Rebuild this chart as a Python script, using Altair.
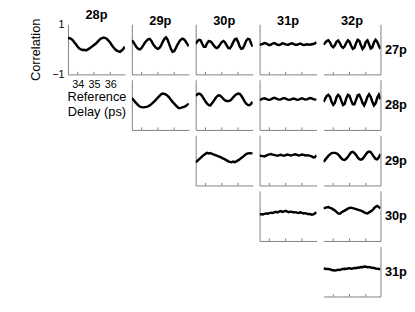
import altair as alt
import pandas as pd

ROWS = ["27p", "28p", "29p", "30p", "31p"]
COLS = ["28p", "29p", "30p", "31p", "32p"]
TICKS = [34, 35, 36]
DELAY = [33.4, 33.5, 33.6, 33.7, 33.8, 33.9, 34.0, 34.1, 34.2, 34.3, 34.4, 34.5,
         34.6, 34.7, 34.8, 34.9, 35.0, 35.1, 35.2, 35.3, 35.4, 35.5, 35.6, 35.7,
         35.8, 35.9, 36.0, 36.1, 36.2, 36.3, 36.4, 36.5, 36.6, 36.7, 36.8, 36.9]

R27_C28 = [0.45, 0.44, 0.42, 0.36, 0.27, 0.19, 0.10, 0.03, 0.0, -0.03, -0.02, -0.04,
           -0.01, 0.03, 0.07, 0.12, 0.17, 0.22, 0.29, 0.36, 0.42, 0.45, 0.47, 0.45,
           0.41, 0.34, 0.26, 0.16, 0.07, 0.0, -0.05, -0.08, -0.1, -0.05, 0.02, 0.1]
R27_C29 = [0.36, 0.28, 0.18, 0.08, 0.02, 0.0, 0.06, 0.16, 0.26, 0.34, 0.40, 0.42,
           0.34, 0.22, 0.12, 0.05, 0.02, 0.06, 0.16, 0.30, 0.42, 0.48, 0.38, 0.20,
           0.02, -0.10, -0.08, 0.05, 0.18, 0.30, 0.38, 0.43, 0.40, 0.32, 0.22, 0.12]
R27_C30 = [0.22, 0.32, 0.38, 0.36, 0.22, 0.10, 0.10, 0.24, 0.33, 0.32, 0.26, 0.16,
           0.08, 0.05, 0.10, 0.20, 0.29, 0.33, 0.28, 0.16, 0.06, 0.04, 0.14, 0.28,
           0.40, 0.42, 0.30, 0.12, 0.02, 0.04, 0.18, 0.34, 0.42, 0.40, 0.24, 0.10]
R27_C31 = [0.18, 0.20, 0.22, 0.25, 0.24, 0.20, 0.17, 0.19, 0.23, 0.25, 0.22, 0.18,
           0.17, 0.20, 0.24, 0.23, 0.20, 0.18, 0.19, 0.23, 0.24, 0.21, 0.18, 0.18,
           0.21, 0.23, 0.20, 0.17, 0.18, 0.20, 0.19, 0.18, 0.20, 0.21, 0.24, 0.28]
R27_C32 = [0.18, 0.26, 0.33, 0.36, 0.28, 0.14, 0.08, 0.16, 0.30, 0.35, 0.26, 0.12,
           0.06, 0.12, 0.26, 0.36, 0.30, 0.14, 0.02, 0.06, 0.24, 0.38, 0.34, 0.16,
           0.02, 0.10, 0.30, 0.36, 0.20, 0.04, 0.08, 0.28, 0.38, 0.30, 0.14, 0.02]
R28_C29 = [0.27, 0.20, 0.12, 0.05, -0.02, -0.07, -0.09, -0.10, -0.09, -0.08, -0.06, -0.02,
           0.03, 0.09, 0.15, 0.22, 0.29, 0.36, 0.42, 0.45, 0.44, 0.41, 0.36, 0.29,
           0.20, 0.12, 0.05, -0.02, -0.09, -0.13, -0.12, -0.10, -0.08, -0.05, 0.0, 0.05]
R28_C30 = [0.36, 0.42, 0.45, 0.42, 0.34, 0.24, 0.14, 0.05, -0.01, -0.02, 0.06, 0.15,
           0.25, 0.33, 0.38, 0.37, 0.31, 0.24, 0.18, 0.15, 0.15, 0.17, 0.22, 0.30,
           0.37, 0.42, 0.45, 0.44, 0.36, 0.26, 0.14, 0.05, 0.0, -0.01, 0.04, 0.12]
R28_C31 = [0.20, 0.22, 0.25, 0.26, 0.24, 0.21, 0.20, 0.22, 0.26, 0.28, 0.26, 0.23,
           0.21, 0.22, 0.25, 0.27, 0.25, 0.22, 0.20, 0.21, 0.24, 0.25, 0.23, 0.20,
           0.21, 0.24, 0.26, 0.24, 0.21, 0.22, 0.25, 0.27, 0.26, 0.23, 0.21, 0.22]
R28_C32 = [0.12, 0.24, 0.36, 0.40, 0.32, 0.12, 0.0, 0.08, 0.30, 0.40, 0.34, 0.16,
           0.0, 0.04, 0.26, 0.40, 0.36, 0.18, 0.02, 0.02, 0.20, 0.38, 0.40, 0.26,
           0.08, -0.02, 0.12, 0.32, 0.42, 0.32, 0.12, -0.02, 0.06, 0.28, 0.40, 0.22]
R29_C30 = [-0.08, -0.02, 0.04, 0.10, 0.16, 0.22, 0.26, 0.30, 0.28, 0.29, 0.26, 0.24,
           0.21, 0.19, 0.16, 0.14, 0.10, 0.07, 0.04, 0.0, -0.04, -0.06, -0.07, -0.05,
           -0.07, -0.04, 0.0, 0.04, 0.10, 0.14, 0.20, 0.25, 0.28, 0.29, 0.28, 0.29]
R29_C31 = [0.20, 0.18, 0.17, 0.16, 0.19, 0.22, 0.24, 0.25, 0.23, 0.22, 0.20, 0.19,
           0.21, 0.22, 0.20, 0.19, 0.21, 0.23, 0.22, 0.20, 0.21, 0.23, 0.24, 0.22,
           0.20, 0.21, 0.23, 0.22, 0.20, 0.21, 0.20, 0.18, 0.16, 0.12, 0.13, 0.20]
R29_C32 = [-0.06, 0.02, 0.10, 0.18, 0.24, 0.29, 0.30, 0.30, 0.28, 0.24, 0.16, 0.08,
           0.03, 0.02, 0.06, 0.14, 0.24, 0.32, 0.34, 0.30, 0.22, 0.12, 0.05, 0.03,
           0.06, 0.14, 0.24, 0.32, 0.35, 0.33, 0.24, 0.14, 0.06, 0.04, 0.12, 0.25]
R30_C31 = [0.06, 0.07, 0.06, 0.08, 0.10, 0.09, 0.11, 0.13, 0.12, 0.14, 0.16, 0.14,
           0.17, 0.19, 0.16, 0.18, 0.20, 0.17, 0.15, 0.17, 0.16, 0.14, 0.15, 0.13,
           0.12, 0.14, 0.12, 0.10, 0.11, 0.09, 0.07, 0.08, 0.05, 0.06, 0.10, 0.14]
R30_C32 = [0.30, 0.32, 0.34, 0.35, 0.32, 0.30, 0.26, 0.22, 0.16, 0.10, 0.09, 0.14,
           0.18, 0.21, 0.25, 0.29, 0.32, 0.33, 0.31, 0.29, 0.27, 0.25, 0.23, 0.21,
           0.18, 0.14, 0.11, 0.10, 0.14, 0.18, 0.22, 0.30, 0.37, 0.40, 0.35, 0.30]
R31_C32 = [0.12, 0.11, 0.10, 0.10, 0.08, 0.06, 0.05, 0.04, 0.05, 0.07, 0.06, 0.08,
           0.10, 0.11, 0.10, 0.12, 0.13, 0.11, 0.12, 0.14, 0.13, 0.16, 0.15, 0.18,
           0.17, 0.20, 0.19, 0.17, 0.18, 0.16, 0.15, 0.14, 0.12, 0.11, 0.10, 0.08]

SERIES = {
    ("27p", "28p"): R27_C28, ("27p", "29p"): R27_C29, ("27p", "30p"): R27_C30,
    ("27p", "31p"): R27_C31, ("27p", "32p"): R27_C32,
    ("28p", "29p"): R28_C29, ("28p", "30p"): R28_C30, ("28p", "31p"): R28_C31,
    ("28p", "32p"): R28_C32,
    ("29p", "30p"): R29_C30, ("29p", "31p"): R29_C31, ("29p", "32p"): R29_C32,
    ("30p", "31p"): R30_C31, ("30p", "32p"): R30_C32,
    ("31p", "32p"): R31_C32,
}

W, H = 58, 51
GREY = "#808080"
FONT = "Liberation Sans"
XDOM = [33.4, 36.9]
YDOM = [-1, 1]


def panel(row, col, vals):
    first = row == "27p" and col == "28p"
    last = col == "32p"
    df = pd.DataFrame({"delay": DELAY, "corr": vals})
    tdf = pd.DataFrame({"delay": TICKS, "lo": [-1.0] * len(TICKS), "hi": [-0.9] * len(TICKS)})

    if first:
        xaxis = alt.Axis(values=TICKS, labels=True, ticks=False, domain=True,
                         domainColor=GREY, grid=False, labelFontSize=11,
                         labelPadding=4, labelColor="black", format="d",
                         title=["Reference", "Delay (ps)"], titleFontSize=13,
                         titleFontWeight="normal", titlePadding=2,
                         titleLineHeight=15, titleColor="black")
    else:
        xaxis = alt.Axis(values=TICKS, labels=False, ticks=False, domain=True,
                         domainColor=GREY, grid=False, title=None)

    if last:
        yaxis = alt.Axis(orient="right", labels=False, ticks=False, domain=True,
                         domainColor=GREY, grid=False, title=row, titleAngle=0,
                         titleAlign="left", titleBaseline="middle", titleX=4,
                         titleY=H / 2, titleFontSize=13, titleFontWeight="bold",
                         titleColor="black")
    elif first:
        yaxis = alt.Axis(values=[-1, 0, 1], labels=True, ticks=False, domain=True,
                         domainColor=GREY, grid=False, labelFontSize=11,
                         labelPadding=4, labelColor="black", format="d",
                         title="Correlation", titleFontSize=13,
                         titleFontWeight="normal", titlePadding=9,
                         titleColor="black")
    else:
        yaxis = alt.Axis(labels=False, ticks=False, domain=True,
                         domainColor=GREY, grid=False, title=None)

    xs = alt.Scale(domain=XDOM, nice=False, zero=False)
    ys = alt.Scale(domain=YDOM, nice=False, zero=False)

    line = alt.Chart(df).mark_line(color="black", strokeWidth=2.5, clip=True).encode(
        x=alt.X("delay:Q", scale=xs, axis=xaxis),
        y=alt.Y("corr:Q", scale=ys, axis=yaxis),
    )
    tk = alt.Chart(tdf).mark_rule(color=GREY, strokeWidth=1).encode(
        x=alt.X("delay:Q", scale=xs, axis=xaxis),
        y=alt.Y("lo:Q", scale=ys, axis=yaxis),
        y2="hi:Q",
    )
    props = dict(width=W, height=H)
    if row == "27p":
        props["title"] = alt.TitleParams(col, fontSize=13, fontWeight="bold",
                                         font=FONT, offset=-4, anchor="middle",
                                         color="black")
    return alt.layer(line, tk).properties(**props)


def empty():
    df = pd.DataFrame({"delay": [35.0], "corr": [0.0]})
    return alt.Chart(df).mark_point(opacity=0).encode(
        x=alt.X("delay:Q", axis=None),
        y=alt.Y("corr:Q", axis=None),
    ).properties(width=W, height=H)


cells = []
for ri, row in enumerate(ROWS):
    for ci, col in enumerate(COLS):
        if ci >= ri:
            cells.append(panel(row, col, SERIES[(row, col)]))
        else:
            cells.append(empty())

chart = alt.concat(*cells, columns=5, spacing={"row": 5.5, "column": 7},
                   bounds="flush").properties(
    padding={"left": 22, "top": -2, "right": 0, "bottom": 0}
).configure(font=FONT).configure_view(stroke=None)

chart.save("out.html", embed_options={"renderer": "svg", "actions": False})
